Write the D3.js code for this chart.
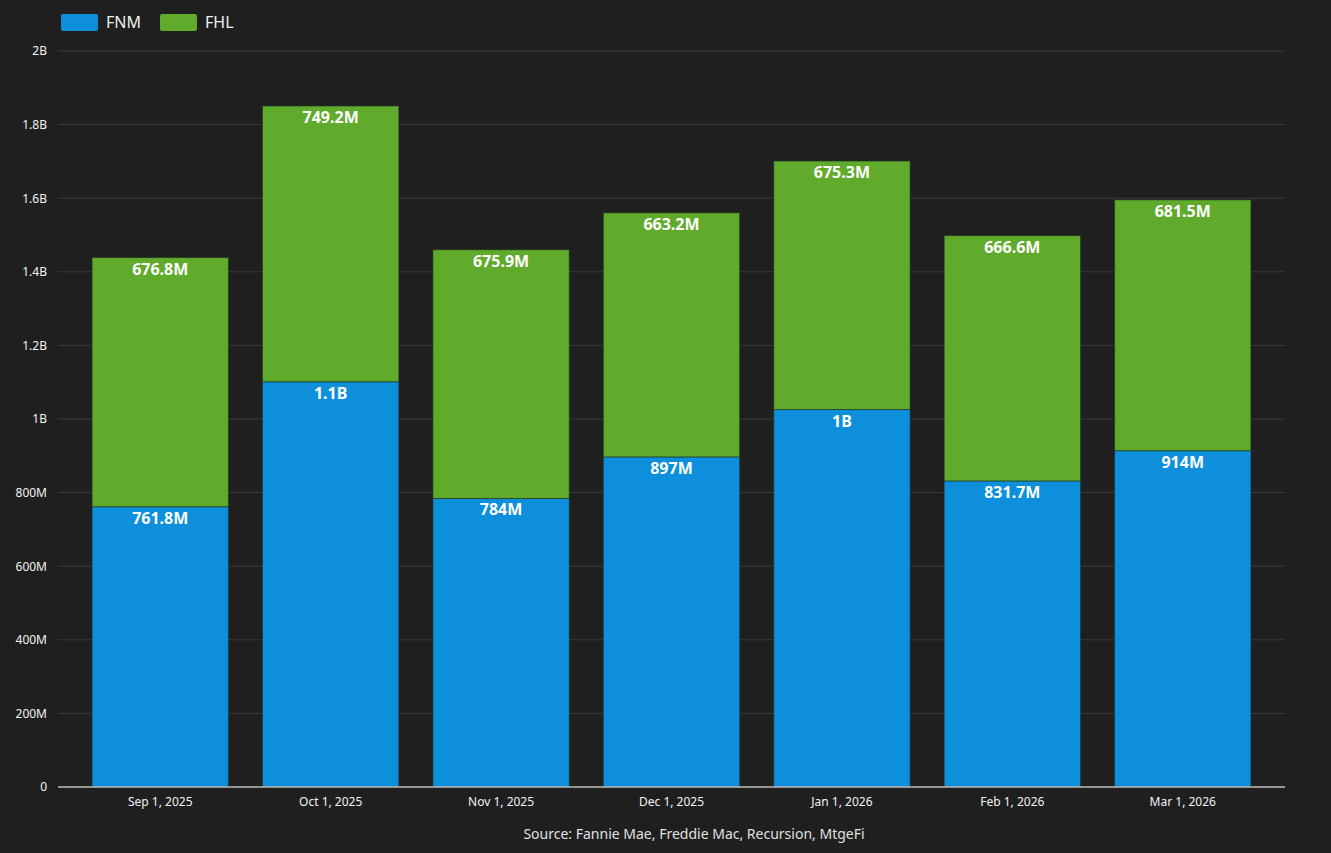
<!DOCTYPE html>
<html>
<head>
<meta charset="utf-8">
<script src="https://cdn.jsdelivr.net/npm/d3@7"></script>
<style>
  body { margin: 0; background: #1f1f1f; }
  svg { display: block; font-family: "Noto Sans", "Open Sans", sans-serif; }
</style>
</head>
<body>
<script>
// values, in millions
const months = ["Sep 1, 2025", "Oct 1, 2025", "Nov 1, 2025", "Dec 1, 2025", "Jan 1, 2026", "Feb 1, 2026", "Mar 1, 2026"];
const fnm = [761.8, 1101.3, 784, 897, 1025.7, 831.7, 914];
const fhl = [676.8, 749.2, 675.9, 663.2, 675.3, 666.6, 681.5];
const seriesNames = ["FNM", "FHL"];
const seriesColors = ["#0d8fdb", "#60aa2c"];
const yTicks = [0, 200, 400, 600, 800, 1000, 1200, 1400, 1600, 1800, 2000];

const W = 1331, H = 853;
const margin = { top: 51, right: 46, bottom: 66, left: 58 };

const svg = d3.select("body").append("svg")
  .attr("width", W)
  .attr("height", H)

svg.append("rect").attr("width", W).attr("height", H).attr("fill", "#1f1f1f")

const x = d3.scaleBand()
  .domain(months)
  .range([margin.left, W - margin.right])
  .paddingInner(0.2)
  .paddingOuter(0.2)

const y = d3.scaleLinear()
  .domain([0, 2000])
  .range([H - margin.bottom, margin.top])

function fmt(v) {
  if (v >= 1000) {
    const b = Math.round(v / 100) / 10;
    return b + "B";
  }
  if (v === 0) return "0";
  return (Math.round(v * 10) / 10) + "M";
}

// gridlines
svg.append("g")
  .selectAll("line")
  .data(yTicks.filter(d => d > 0))
  .enter().append("line")
  .attr("x1", margin.left).attr("x2", W - margin.right)
  .attr("y1", d => y(d)).attr("y2", d => y(d))
  .attr("stroke", "#3b3b3b")
  .attr("stroke-width", 1)

// y axis labels
const yAxis = svg.append("g")
  .attr("transform", `translate(${margin.left},0)`)
  .call(d3.axisLeft(y).tickValues(yTicks).tickSize(0).tickPadding(11).tickFormat(fmt))
yAxis.attr("font-family", null)
yAxis.select(".domain").remove()
yAxis.selectAll("text").attr("fill", "#f2f2f2").style("font-size", "12px")

const data = months.map((m, i) => ({ month: m, FNM: fnm[i], FHL: fhl[i] }));
const stack = d3.stack().keys(seriesNames);
const layers = stack(data);

const color = d3.scaleOrdinal().domain(seriesNames).range(seriesColors);

const groups = svg.append("g")
  .selectAll("g")
  .data(layers)
  .enter().append("g")
  .attr("fill", d => color(d.key))

groups.selectAll("rect")
  .data(d => d)
  .enter().append("rect")
  .attr("x", d => x(d.data.month))
  .attr("width", x.bandwidth())
  .attr("y", d => y(d[1]))
  .attr("height", d => y(d[0]) - y(d[1]))
  .attr("stroke", "#1f3320")
  .attr("stroke-opacity", 0.6)
  .attr("stroke-width", 1)

// value labels at top of each segment
groups.selectAll("text")
  .data(d => d.map(s => ({ s: s, key: d.key })))
  .enter().append("text")
  .attr("x", d => x(d.s.data.month) + x.bandwidth() / 2)
  .attr("y", d => y(d.s[1]) + 17)
  .attr("text-anchor", "middle")
  .attr("fill", "#ffffff")
  .style("font-size", "16px")
  .style("font-weight", "bold")
  .text(d => fmt(d.s.data[d.key]))

// x axis
const xAxis = svg.append("g")
  .attr("transform", `translate(0,${H - margin.bottom})`)
  .call(d3.axisBottom(x).tickSize(0).tickPadding(10))
xAxis.attr("font-family", null)
xAxis.select(".domain").attr("stroke", "#bdbdbd").attr("stroke-width", 1.5)
  .attr("d", `M${margin.left},0H${W - margin.right}`)
xAxis.selectAll("text").attr("fill", "#f2f2f2").style("font-size", "12px")

// legend
const legend = svg.append("g")
  .selectAll("g")
  .data(seriesNames)
  .enter().append("g")
  .attr("transform", (d, i) => `translate(${61 + i * 99},14)`)
legend.append("rect")
  .attr("width", 37).attr("height", 17).attr("rx", 2)
  .attr("fill", d => color(d))
legend.append("text")
  .attr("x", 45).attr("y", 14)
  .attr("fill", "#f0f0f0")
  .style("font-size", "16px")
  .text(d => d)

// source
svg.append("text")
  .attr("x", 694).attr("y", 839)
  .attr("text-anchor", "middle")
  .attr("fill", "#e0e0e0")
  .style("font-size", "14px")
  .text("Source: Fannie Mae, Freddie Mac, Recursion, MtgeFi")
</script>
</body>
</html>
